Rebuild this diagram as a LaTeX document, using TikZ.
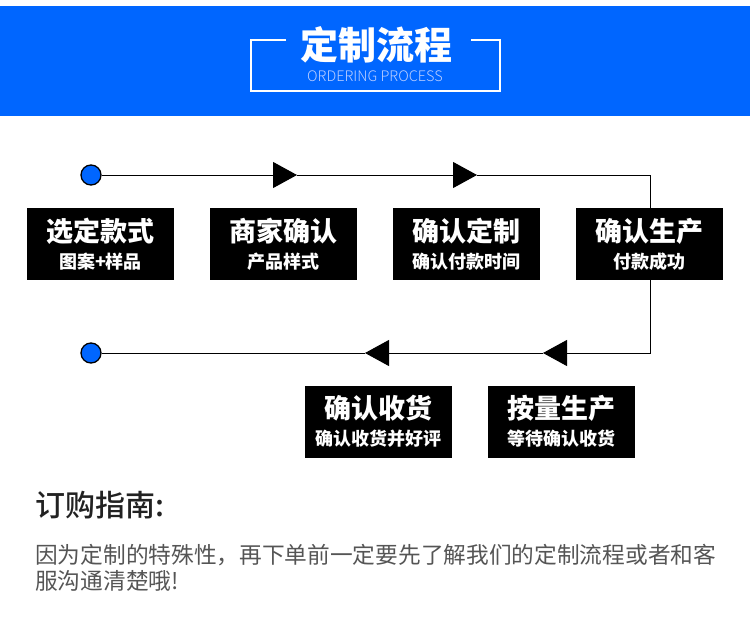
\documentclass[tikz,border=0pt]{standalone}
\usepackage{fontspec}
\usepackage{xcolor}
\usepackage{tikz}
\usetikzlibrary{arrows.meta,positioning}
\newfontfamily\cjk{Noto Sans CJK SC}
\newfontfamily\cjkmed{Noto Sans CJK SC Medium}
\newfontfamily\cjklight{Noto Sans CJK SC Light}
\definecolor{headblue}{RGB}{0,102,255}
\definecolor{subblue}{RGB}{190,208,255}
\definecolor{headgray}{RGB}{34,34,34}
\definecolor{inkgray}{RGB}{85,85,85}
\tikzset{
  stepbox/.style={fill=black, minimum width=147pt, minimum height=72pt,
    inner sep=0pt, text=white, align=center,
    font=\cjk\bfseries\fontsize{27}{27}\selectfont},
  dot/.style={circle, draw, fill=headblue, line width=1.3pt,
    minimum size=20pt, inner sep=0pt},
  flow/.style={line width=1pt},
  tri/.style={-{Triangle[length=24pt,width=26pt]}},
}
\newcommand{\sub}[1]{{\cjkmed\fontsize{18}{18}\selectfont #1}}

\begin{document}
\begin{tikzpicture}[x=1pt,y=-1pt]
        \useasboundingbox (0,0) rectangle (750,629);

        % Header band
        \fill[headblue] (0,6) rectangle (750,116);
        \draw[white, line width=1.2pt] (286,40) -- (251,40) -- (251,91) -- (500,91) -- (500,40) -- (471,40);
        \node[text=white, font=\cjk\bfseries\fontsize{38}{38}\selectfont] (title) at (376,45) {定制流程};
        \node[text=subblue, font=\cjklight\fontsize{14.5}{15}\selectfont] (subtitle) at (375,76) {ORDERING PROCESS};

        % Define flow points
        \node[dot] (start) at (91,175) {};
        \node[dot] (finish) at (91,353) {};
        \coordinate (a1) at (297,175);
        \coordinate (a2) at (477,175);
        \coordinate (turnA) at (650,175);
        \coordinate (turnB) at (650,353);
        \coordinate (a3) at (543,353);
        \coordinate (a4) at (365,353);

        % Draw flow line
        \draw[flow,tri] (start) -- (a1);
        \draw[flow,tri] (a1) -- (a2);
        \draw[flow,tri] (a2) -- (turnA) -- (turnB) -- (a3);
        \draw[flow,tri] (a3) -- (a4);
        \draw[flow] (a4) -- (finish);

        % Steps
        \node[stepbox] (s1) at (100.5,244) {选定款式\\\sub{图案+样品}};
        \node[stepbox] (s2) at (283.5,244) {商家确认\\\sub{产品样式}};
        \node[stepbox] (s3) at (466,244) {确认定制\\\sub{确认付款时间}};
        \node[stepbox] (s4) at (649.5,244) {确认生产\\\sub{付款成功}};
        \node[stepbox] (s5) at (561.5,421.5) {按量生产\\\sub{等待确认收货}};
        \node[stepbox] (s6) at (378.5,421.5) {确认收货\\\sub{确认收货并好评}};

        % Guide text
        \node[anchor=west, text=headgray, font=\cjkmed\fontsize{30}{30}\selectfont] (guide) at (32,505) {订购指南:};
        \node[anchor=north west, align=left, inner sep=0pt, text=inkgray,
          font=\cjk\fontsize{22.7}{26}\selectfont] (note) at (35,544)
          {因为定制的特殊性，再下单前一定要先了解我们的定制流程或者和客\\服沟通清楚哦!};

\end{tikzpicture}
\end{document}
